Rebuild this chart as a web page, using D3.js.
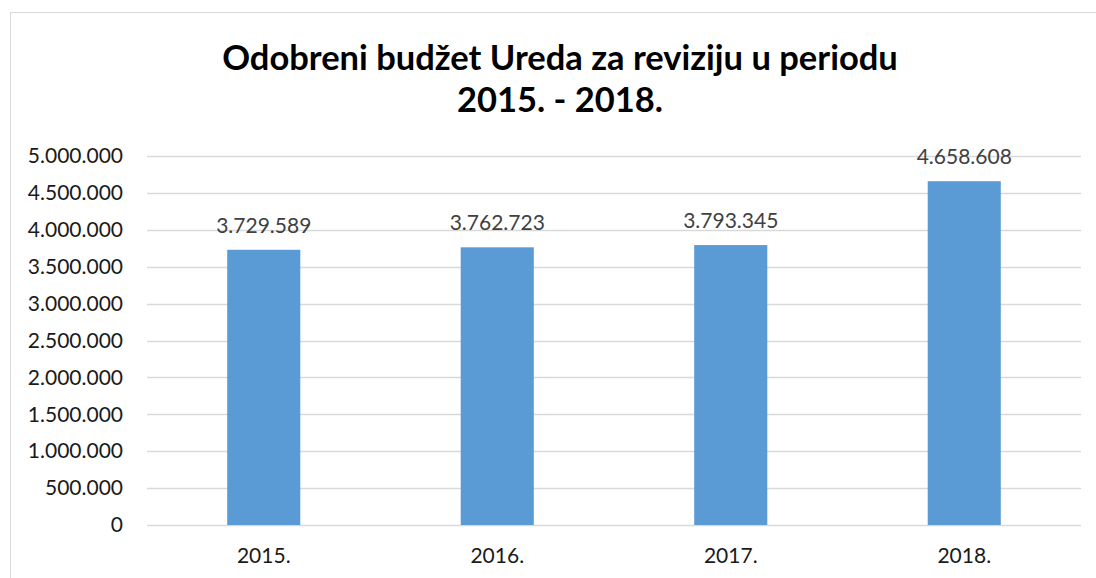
<!DOCTYPE html>
<html>
<head>
<meta charset="utf-8">
<script src="https://cdn.jsdelivr.net/npm/d3@7"></script>
<style>
  body { margin: 0; background: #fff; }
  text { font-family: Lato, "Open Sans", sans-serif; }
</style>
</head>
<body>
<div id="container"></div>
<script>
// chart data
var years = ["2015.", "2016.", "2017.", "2018."];
var budget = [3729589, 3762723, 3793345, 4658608];
var yTicks = [0, 500000, 1000000, 1500000, 2000000, 2500000, 3000000, 3500000, 4000000, 4500000, 5000000];
var titleLines = ["Odobreni budžet Ureda za reviziju u periodu", "2015. - 2018."];

var W = 1096, H = 578;
var margin = { top: 156, right: 15, bottom: 53, left: 147 },
  width = W - margin.left - margin.right,
  height = H - margin.top - margin.bottom;

// dot as thousands separator
var fmt = function (v) {
  return d3.format(",")(v).replace(/,/g, ".");
};

var svg = d3
  .select("#container")
  .append("svg")
  .attr("width", W)
  .attr("height", H);

// outer chart frame
svg
  .append("rect")
  .attr("x", 10.5)
  .attr("y", 12.5)
  .attr("width", W + 20)
  .attr("height", H + 20)
  .attr("fill", "none")
  .attr("stroke", "#d9d9d9")
  .attr("stroke-width", 1);

var g = svg
  .append("g")
  .attr("transform", "translate(" + margin.left + "," + margin.top + ")");

var x = d3.scaleBand().domain(years).range([0, width]).padding(0);
var y = d3.scaleLinear().domain([0, 5000000]).range([height, 0]);

// gridlines
g.selectAll(".grid")
  .data(yTicks)
  .enter()
  .append("line")
  .attr("x1", 0)
  .attr("x2", width)
  .attr("y1", function (d) { return Math.round(y(d)) + 0.5; })
  .attr("y2", function (d) { return Math.round(y(d)) + 0.5; })
  .attr("stroke", "#d9d9d9")
  .attr("stroke-width", 1.5);

// y axis labels
var yAxis = g.append("g").call(
  d3.axisLeft(y).tickValues(yTicks).tickFormat(fmt).tickSize(0).tickPadding(24)
);
yAxis.select(".domain").remove();
yAxis.selectAll("text").attr("font-size", 21).attr("fill", "#1a1a1a").style("font-family", "Lato, sans-serif");

// x axis labels
var xAxis = g
  .append("g")
  .attr("transform", "translate(0," + height + ")")
  .call(d3.axisBottom(x).tickSize(0).tickPadding(23));
xAxis.select(".domain").remove();
xAxis.selectAll("text").attr("font-size", 21).attr("fill", "#1a1a1a").style("font-family", "Lato, sans-serif");

// bars
var barW = x.bandwidth() * 0.313;
g.selectAll(".bar")
  .data(budget)
  .enter()
  .append("rect")
  .attr("x", function (d, i) { return x(years[i]) + (x.bandwidth() - barW) / 2; })
  .attr("y", function (d) { return y(d); })
  .attr("width", barW)
  .attr("height", function (d) { return height - y(d); })
  .attr("fill", "#5b9bd5");

// value labels
g.selectAll(".lbl")
  .data(budget)
  .enter()
  .append("text")
  .attr("x", function (d, i) { return x(years[i]) + x.bandwidth() / 2; })
  .attr("y", function (d) { return y(d) - 17; })
  .attr("text-anchor", "middle")
  .attr("font-size", 21)
  .attr("fill", "#404040")
  .text(fmt);

// title
svg
  .selectAll(".title")
  .data(titleLines)
  .enter()
  .append("text")
  .attr("x", 560)
  .attr("y", function (d, i) { return 70 + i * 42; })
  .attr("text-anchor", "middle")
  .attr("font-size", 34.5)
  .attr("font-weight", "bold")
  .attr("fill", "#000")
  .text(function (d) { return d; });
</script>
</body>
</html>
